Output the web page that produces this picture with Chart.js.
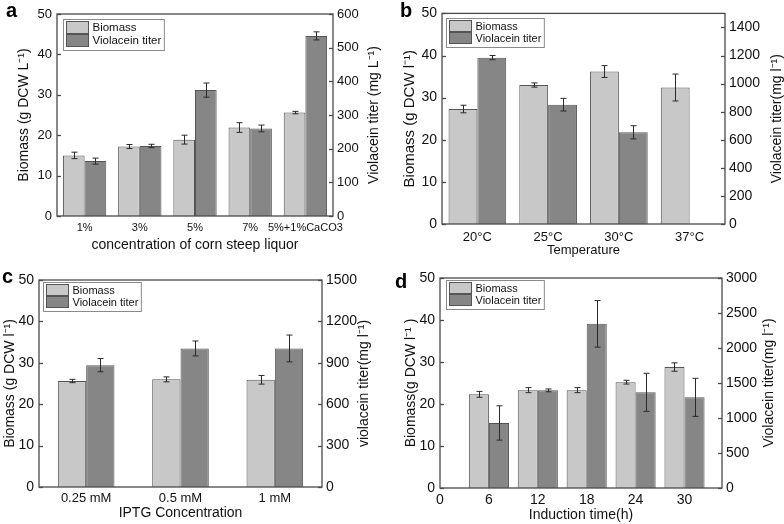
<!DOCTYPE html>
<html>
<head>
<meta charset="utf-8">
<script src="https://cdn.jsdelivr.net/npm/chart.js@4.4.1/dist/chart.umd.min.js"></script>
<style>
  body { margin: 0; background: #fff; width: 784px; height: 524px; position: relative; overflow: hidden; font-family: 'Liberation Sans', Arial, sans-serif; }
  canvas { position: absolute; }
  .tag { position: absolute; font-weight: bold; font-size: 20px; line-height: 20px; color: #000; }
</style>
</head>
<body>
<canvas id="chartA" width="392" height="262" style="left:0;top:0"></canvas>
<canvas id="chartB" width="392" height="262" style="left:392px;top:0"></canvas>
<canvas id="chartC" width="392" height="262" style="left:0;top:262px"></canvas>
<canvas id="chartD" width="392" height="262" style="left:392px;top:262px"></canvas>
<div class="tag" style="left:6px;top:0">a</div>
<div class="tag" style="left:400px;top:0">b</div>
<div class="tag" style="left:2px;top:266px">c</div>
<div class="tag" style="left:395px;top:271px">d</div>
<script>
// panel a - corn steep liquor
const corn = ['1%', '3%', '5%', '7%', '5%+1%CaCO3'];
const cornBiomass = [15.0, 17.2, 18.9, 21.9, 25.6];
const cornBiomassErr = [0.8, 0.5, 1.1, 1.2, 0.3];
const cornViolacein = [163, 208, 374, 260, 535];
const cornViolaceinErr = [9, 5, 21, 10, 12];

// panel b - temperature
const temps = ['20°C', '25°C', '30°C', '37°C'];
const tempBiomass = [27.3, 33.0, 36.2, 32.4];
const tempBiomassErr = [0.9, 0.5, 1.4, 3.2];
const tempViolacein = [1185, 850, 653, null];
const tempViolaceinErr = [15, 45, 47, null];

// panel c - IPTG
const iptg = ['0.25 mM', '0.5 mM', '1 mM'];
const iptgBiomass = [25.6, 26.0, 25.9];
const iptgBiomassErr = [0.4, 0.6, 1.05];
const iptgViolacein = [883, 1004, 1004];
const iptgViolaceinErr = [48, 54, 97];

// panel d - induction time
const hours = [6, 12, 18, 24, 30];
const hourBiomass = [22.3, 23.3, 23.3, 25.2, 28.8];
const hourBiomassErr = [0.7, 0.6, 0.6, 0.45, 1.0];
const hourViolacein = [929, 1395, 2345, 1367, 1295];
const hourViolaceinErr = [245, 20, 333, 272, 272];

const LIGHT = '#c8c8c8';
const DARK = '#868686';
const EDGE = '#555555';
const AXIS = '#4a4a4a';
const FONT = "'Liberation Sans', Arial, sans-serif";

Chart.defaults.font.family = FONT;
Chart.defaults.color = '#111';

// plot box + inward tick marks on both y axes
const frame = {
  id: 'frame',
  afterDatasetsDraw(chart) {
    const { ctx, chartArea: a, scales } = chart;
    ctx.save();
    ctx.strokeStyle = AXIS;
    ctx.lineWidth = 1.3;
    ctx.strokeRect(a.left, a.top, a.right - a.left, a.bottom - a.top);
    [['y', a.left, 1], ['y2', a.right, -1]].forEach(([id, x0, dir]) => {
      const s = scales[id];
      s.ticks.forEach((t, i) => {
        const p = Math.round(s.getPixelForTick(i)) + 0.5;
        ctx.beginPath();
        ctx.moveTo(x0, p);
        ctx.lineTo(x0 + dir * 4, p);
        ctx.stroke();
      });
    });
    ctx.restore();
  }
};

const errorBars = {
  id: 'errorBars',
  afterDatasetsDraw(chart) {
    const ctx = chart.ctx;
    ctx.save();
    ctx.strokeStyle = '#2a2a2a';
    ctx.lineWidth = 1;
    chart.data.datasets.forEach((ds, i) => {
      const meta = chart.getDatasetMeta(i);
      const scale = chart.scales[ds.yAxisID];
      meta.data.forEach((bar, j) => {
        const d = ds.data[j];
        const v = d && typeof d === 'object' ? d.y : d;
        const e = ds.errors[j];
        if (v == null || e == null) return;
        const x = Math.round(bar.x) + 0.5;
        const top = scale.getPixelForValue(v + e);
        const bot = scale.getPixelForValue(v - e);
        ctx.beginPath();
        ctx.moveTo(x, top); ctx.lineTo(x, bot);
        ctx.moveTo(x - 3, top); ctx.lineTo(x + 3, top);
        ctx.moveTo(x - 3, bot); ctx.lineTo(x + 3, bot);
        ctx.stroke();
      });
    });
    ctx.restore();
  }
};

// right axis title, read bottom to top like the left one
const rightTitle = {
  id: 'rightTitle',
  afterDraw(chart, args, opts) {
    const { ctx, chartArea: a } = chart;
    ctx.save();
    ctx.font = opts.fs + 'px ' + FONT;
    ctx.fillStyle = '#111';
    ctx.textAlign = 'center';
    ctx.textBaseline = 'middle';
    ctx.translate(opts.x, (a.top + a.bottom) / 2);
    ctx.rotate(-Math.PI / 2);
    ctx.fillText(opts.text, 0, 0);
    ctx.restore();
  }
};

// small boxed legend in the top-left corner of the plot
const boxLegend = {
  id: 'boxLegend',
  afterDraw(chart, args, opts) {
    const { ctx, chartArea } = chart;
    const r = opts.rowH;
    ctx.save();
    ctx.font = opts.fontSize + 'px ' + FONT;
    const labels = chart.data.datasets.map(d => d.label);
    const tw = Math.max(...labels.map(t => ctx.measureText(t).width));
    const x = Math.round(chartArea.left + opts.dx) + 0.5;
    const y = Math.round(chartArea.top + opts.dy) + 0.5;
    const w = 3 + 22 + 4 + tw + 3;
    const h = 3 + 2 * r + 2;
    ctx.fillStyle = '#fff';
    ctx.fillRect(x, y, w, h);
    ctx.strokeStyle = '#8a8a8a';
    ctx.lineWidth = 1;
    ctx.strokeRect(x, y, w, h);
    chart.data.datasets.forEach((ds, i) => {
      const sy = y + 2 + i * r;
      ctx.fillStyle = ds.backgroundColor;
      ctx.fillRect(x + 3, sy, 22, r - 1);
      ctx.strokeStyle = EDGE;
      ctx.strokeRect(x + 3, sy, 22, r - 1);
      ctx.fillStyle = '#111';
      ctx.textBaseline = 'middle';
      ctx.fillText(ds.label, x + 3 + 22 + 4, sy + r / 2);
    });
    ctx.restore();
  }
};

function makePanel(id, p) {
  const W = 392, H = 262;
  const barStyle = { borderColor: EDGE, borderWidth: 1, categoryPercentage: p.catPct, barPercentage: 1 };
  return new Chart(document.getElementById(id), {
    type: 'bar',
    data: {
      labels: p.labels,
      datasets: [
        Object.assign({ label: 'Biomass', data: p.bio, errors: p.bioErr, backgroundColor: LIGHT, yAxisID: 'y' }, barStyle),
        Object.assign({ label: 'Violacein titer', data: p.vio, errors: p.vioErr, backgroundColor: DARK, yAxisID: 'y2' }, barStyle)
      ]
    },
    options: {
      responsive: false,
      animation: false,
      layout: { padding: { top: p.area.t, left: 0, right: 0, bottom: 0 } },
      plugins: {
        legend: { display: false },
        tooltip: { enabled: false },
        boxLegend: { dx: p.leg.dx, dy: p.leg.dy, rowH: p.leg.rowH, fontSize: p.leg.fs },
        rightTitle: p.y2Title
      },
      scales: {
        x: Object.assign({
          grid: { display: false, drawTicks: false },
          border: { display: false },
          ticks: { font: { size: p.xTick.fs }, padding: p.xTick.pad, color: '#111', maxRotation: 0, autoSkip: false },
          title: { display: true, text: p.xTitle.text, font: { size: p.xTitle.fs }, padding: { top: 0, bottom: p.xTitle.pad }, color: '#111' },
          afterFit(s) { s.height = H - p.area.b; }
        }, p.xExtra || {}),
        y: {
          position: 'left',
          min: 0, max: 50,
          grid: { display: false, drawTicks: false },
          border: { display: false },
          ticks: { stepSize: 10, font: { size: p.yTick.fs }, padding: p.yTick.pad, color: '#111' },
          title: { display: true, text: p.yTitle.text, font: { size: p.yTitle.fs }, padding: { top: p.yTitle.pad, bottom: 0 }, color: '#111' },
          afterFit(s) { s.width = p.area.l; }
        },
        y2: {
          position: 'right',
          min: 0, max: p.y2Max,
          grid: { display: false, drawTicks: false },
          border: { display: false },
          ticks: { stepSize: p.y2Step, includeBounds: false, font: { size: p.yTick.fs }, padding: p.y2Tick.pad, color: '#111', callback: v => String(v) },
          title: { display: false },
          afterFit(s) { s.width = W - p.area.r; }
        }
      }
    },
    plugins: [frame, errorBars, rightTitle, boxLegend]
  });
}

makePanel('chartA', {
  labels: corn, bio: cornBiomass, bioErr: cornBiomassErr, vio: cornViolacein, vioErr: cornViolaceinErr,
  catPct: 0.785, y2Max: 600, y2Step: 100,
  area: { l: 57, r: 333, t: 14, b: 216 },
  xTick: { fs: 11, pad: 5 }, yTick: { fs: 13, pad: 5 }, y2Tick: { pad: 4 },
  xTitle: { text: 'concentration of corn steep liquor', fs: 14, pad: 8 },
  yTitle: { text: 'Biomass (g DCW L⁻¹)', fs: 14, pad: 16 },
  y2Title: { text: 'Violacein titer (mg L⁻¹)', fs: 14, x: 374 },
  leg: { dx: 5.7, dy: 5, rowH: 13, fs: 11.5 }
});

makePanel('chartB', {
  labels: temps, bio: tempBiomass, bioErr: tempBiomassErr, vio: tempViolacein, vioErr: tempViolaceinErr,
  catPct: 0.815, y2Max: 1500, y2Step: 200,
  area: { l: 50, r: 333, t: 6, b: 224 },
  xTick: { fs: 13, pad: 6 }, yTick: { fs: 14, pad: 5 }, y2Tick: { pad: 4 },
  xTitle: { text: 'Temperature', fs: 13, pad: 4 },
  yTitle: { text: 'Biomass (g DCW l⁻¹)', fs: 15, pad: 9 },
  y2Title: { text: 'Violacein titer(mg l⁻¹)', fs: 14, x: 385 },
  leg: { dx: 4.3, dy: 5, rowH: 12, fs: 11 }
});

makePanel('chartC', {
  labels: iptg, bio: iptgBiomass, bioErr: iptgBiomassErr, vio: iptgViolacein, vioErr: iptgViolaceinErr,
  catPct: 0.60, y2Max: 1500, y2Step: 300,
  area: { l: 39, r: 322, t: 18, b: 225 },
  xTick: { fs: 13, pad: 4 }, yTick: { fs: 14, pad: 5 }, y2Tick: { pad: 4 },
  xTitle: { text: 'IPTG Concentration', fs: 14, pad: 2 },
  yTitle: { text: 'Biomass (g DCW l⁻¹)', fs: 14, pad: 2 },
  y2Title: { text: 'violacein titer(mg l⁻¹)', fs: 14, x: 364 },
  leg: { dx: 4, dy: 2, rowH: 12, fs: 11 }
});

makePanel('chartD', {
  labels: null,
  bio: hours.map((h, i) => ({ x: h, y: hourBiomass[i] })), bioErr: hourBiomassErr,
  vio: hours.map((h, i) => ({ x: h, y: hourViolacein[i] })), vioErr: hourViolaceinErr,
  catPct: 0.82, y2Max: 3000, y2Step: 500,
  area: { l: 48, r: 330, t: 16, b: 226 },
  xTick: { fs: 14, pad: 4 }, yTick: { fs: 14, pad: 5 }, y2Tick: { pad: 4 },
  xTitle: { text: 'Induction time(h)', fs: 14, pad: 0 },
  yTitle: { text: 'Biomass(g DCW l⁻¹ )', fs: 14, pad: 11 },
  y2Title: { text: 'Violacein titer(mg l⁻¹)', fs: 14, x: 377 },
  leg: { dx: 6, dy: 2, rowH: 12, fs: 11 },
  xExtra: { type: 'linear', min: 0, max: 34.6, offset: false, ticks: { stepSize: 6, includeBounds: false, font: { size: 14 }, padding: 4, color: '#111', maxRotation: 0 } }
});
</script>
</body>
</html>
